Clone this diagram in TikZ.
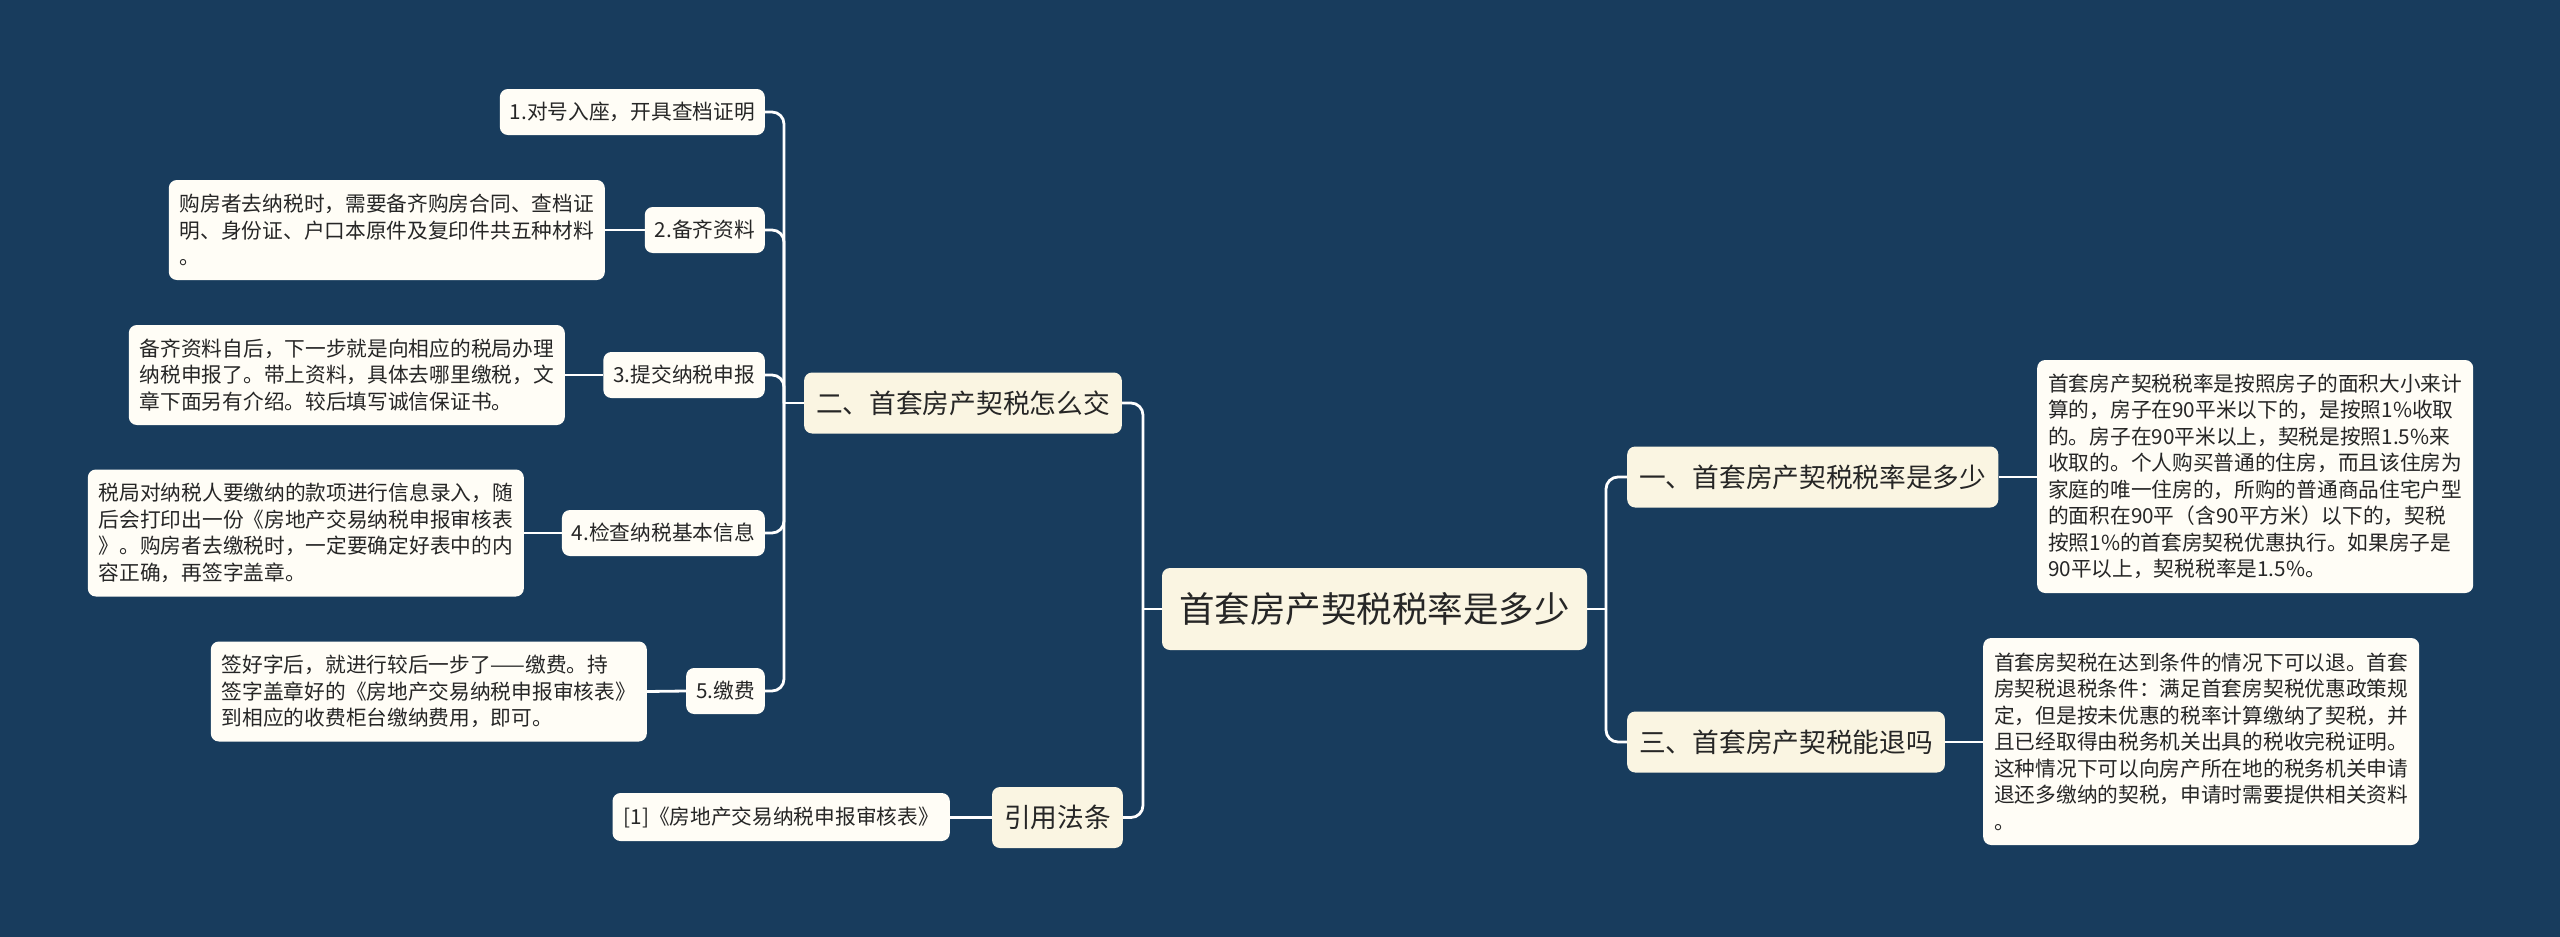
\documentclass[tikz,border=0pt]{standalone}
\usepackage{fontspec}
\setmainfont{Noto Sans CJK SC}
\definecolor{bgblue}{RGB}{24,60,93}
\definecolor{cream}{RGB}{250,245,226}
\definecolor{leafc}{RGB}{255,253,246}
\definecolor{textc}{RGB}{38,38,38}
\tikzset{
  box/.style={rounded corners=8pt, inner sep=0pt, text=textc, align=left},
  rootbox/.style={box, fill=cream, font=\fontsize{35.5}{42}\selectfont, minimum width=425pt, minimum height=82pt},
  lvlbox/.style={box, fill=cream, font=\fontsize{26.7}{32}\selectfont, minimum height=61pt, inner xsep=12pt},
  subbox/.style={box, fill=leafc, font=\fontsize{20.7}{26.5}\selectfont, minimum height=46pt, inner xsep=10pt},
  leafbox/.style={box, fill=leafc, font=\fontsize{20.7}{26.5}\selectfont, inner xsep=11pt},
  conn/.style={draw=white, line width=2.8pt, rounded corners=12pt}
}
\begin{document}
\begin{tikzpicture}[x=1pt,y=-1pt]
\fill[bgblue] (0,0) rectangle (2560,937);
\useasboundingbox (0,0) rectangle (2560,937);

% root
\node[rootbox] (root) at (1374.5,609) {首套房产契税税率是多少};

% right branch
\node[lvlbox, anchor=west] (n1) at (1627,477) {一、首套房产契税税率是多少};
\node[lvlbox, anchor=west] (n3) at (1627,742) {三、首套房产契税能退吗};
\node[leafbox, anchor=west, minimum width=435pt, minimum height=233pt] (r1) at (2037,476.5) {首套房产契税税率是按照房子的面积大小来计\\算的，房子在90平米以下的，是按照1\%收取\\的。房子在90平米以上，契税是按照1.5\%来\\收取的。个人购买普通的住房，而且该住房为\\家庭的唯一住房的，所购的普通商品住宅户型\\的面积在90平（含90平方米）以下的，契税\\按照1\%的首套房契税优惠执行。如果房子是\\90平以上，契税税率是1.5\%。};
\node[leafbox, anchor=west, minimum width=434pt, minimum height=207pt] (r3) at (1983,741.5) {首套房契税在达到条件的情况下可以退。首套\\房契税退税条件：满足首套房契税优惠政策规\\定，但是按未优惠的税率计算缴纳了契税，并\\且已经取得由税务机关出具的税收完税证明。\\这种情况下可以向房产所在地的税务机关申请\\退还多缴纳的契税，申请时需要提供相关资料\\。};

% left branch
\node[lvlbox, anchor=east] (n2) at (1122,403) {二、首套房产契税怎么交};
\node[lvlbox, anchor=east] (n4) at (1123,817.5) {引用法条};
\node[leafbox, anchor=east, minimum width=335pt, minimum height=48pt] (c1) at (950,817) {[1]《房地产交易纳税申报审核表》};

\node[subbox, anchor=east] (s1) at (765,112) {1.对号入座，开具查档证明};
\node[subbox, anchor=east] (s2) at (765,230) {2.备齐资料};
\node[subbox, anchor=east] (s3) at (765,375) {3.提交纳税申报};
\node[subbox, anchor=east] (s4) at (765,533) {4.检查纳税基本信息};
\node[subbox, anchor=east] (s5) at (765,691) {5.缴费};

\node[leafbox, anchor=east, minimum width=433pt, minimum height=100pt] (l2) at (605,230) {购房者去纳税时，需要备齐购房合同、查档证\\明、身份证、户口本原件及复印件共五种材料\\。};
\node[leafbox, anchor=east, minimum width=435pt, minimum height=100pt] (l3) at (565,375) {备齐资料自后，下一步就是向相应的税局办理\\纳税申报了。带上资料，具体去哪里缴税，文\\章下面另有介绍。较后填写诚信保证书。};
\node[leafbox, anchor=east, minimum width=435pt, minimum height=127pt] (l4) at (524,533) {税局对纳税人要缴纳的款项进行信息录入，随\\后会打印出一份《房地产交易纳税申报审核表\\》。购房者去缴税时，一定要确定好表中的内\\容正确，再签字盖章。};
\node[leafbox, anchor=east, minimum width=433pt, minimum height=100pt] (l5) at (647,691.5) {签好字后，就进行较后一步了——缴费。持\\签字盖章好的《房地产交易纳税申报审核表》\\到相应的收费柜台缴纳费用，即可。};

% connectors
\coordinate (jr) at (1606,609);
\coordinate (jl) at (1143,609);
\coordinate (js) at (784,403);
\draw[conn] (root.east) -- (jr);
\draw[conn] (jr) |- (n1.west);
\draw[conn] (jr) |- (n3.west);
\draw[conn] (n1.east) -- (r1.west |- n1.east);
\draw[conn] (n3.east) -- (r3.west |- n3.east);
\draw[conn] (root.west) -- (jl);
\draw[conn] (jl) |- (n2.east);
\draw[conn] (jl) |- (n4.east);
\draw[conn] (n4.west) -- (c1.east |- n4.west);
\draw[conn] (n2.west) -- (js);
\draw[conn] (js) |- (s1.east);
\draw[conn] (js) |- (s2.east);
\draw[conn] (js) |- (s3.east);
\draw[conn] (js) |- (s4.east);
\draw[conn] (js) |- (s5.east);
\draw[conn] (s2.west) -- (l2.east);
\draw[conn] (s3.west) -- (l3.east);
\draw[conn] (s4.west) -- (l4.east);
\draw[conn] (s5.west) -- (l5.east);
\end{tikzpicture}
\end{document}
